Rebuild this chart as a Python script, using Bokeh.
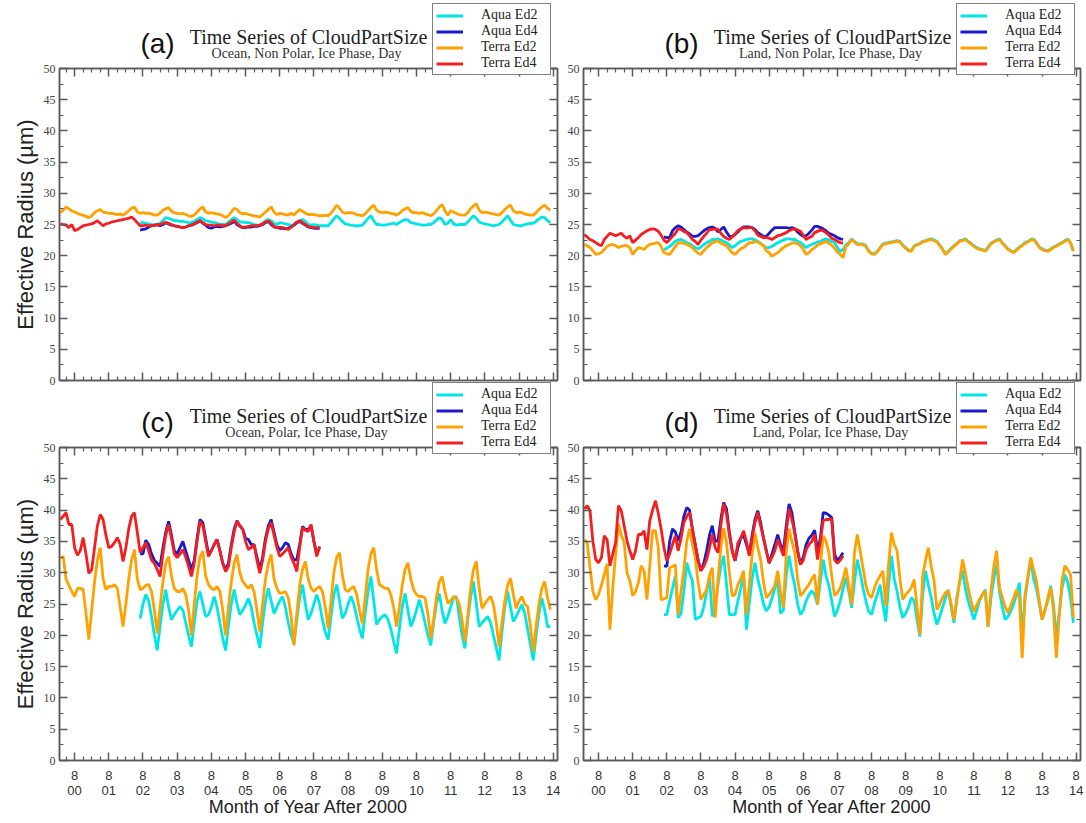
from bokeh.plotting import figure
from bokeh.models import FixedTicker, LinearAxis, Legend, LegendItem, Label, Range1d, GridBox
from bokeh.embed import file_html
from bokeh.resources import INLINE

# ---------------- data (monthly values, month index 0 = Jan 2000) ----------------
TERRA_START = 2   # Mar 2000
AQUA_START = 30   # Jul 2002
SERIES_NAMES = ["Aqua Ed2", "Aqua Ed4", "Terra Ed2", "Terra Ed4"]
YEAR_TICKS = [7, 19, 31, 43, 55, 67, 79, 91, 103, 115, 127, 139, 151, 163, 175]   # each August
YEAR_LABELS = ["8\n00", "8\n01", "8\n02", "8\n03", "8\n04", "8\n05", "8\n06", "8\n07",
               "8\n08", "8\n09", "8\n10", "8\n11", "8\n12", "8\n13", "8\n14"]
Y_TICKS = [0, 5, 10, 15, 20, 25, 30, 35, 40, 45, 50]

# (a) Ocean, Non Polar
A_TERRA_ED2 = [26.9, 27.3, 27.8, 27.5, 27.2, 27.0, 26.8, 26.6, 26.5, 26.3,
    26.1, 26.4, 26.9, 27.2, 27.4, 27.0, 26.9, 26.8, 26.8, 26.7, 26.6, 26.7,
    26.5, 26.8, 27.2, 27.6, 27.8, 27.0, 26.8, 26.9, 26.8, 26.8, 26.7, 26.5,
    26.5, 26.8, 27.3, 27.5, 27.7, 27.1, 26.9, 26.8, 26.7, 26.8, 26.6, 26.4,
    26.3, 26.5, 27.0, 27.5, 27.8, 27.0, 26.8, 26.9, 26.8, 26.7, 26.6, 26.4,
    26.1, 26.4, 27.0, 27.6, 27.4, 26.9, 26.7, 26.8, 26.6, 26.5, 26.4, 26.3,
    26.2, 26.6, 27.0, 27.4, 27.8, 27.0, 26.6, 26.8, 26.7, 26.6, 26.5, 26.8,
    26.5, 27.0, 27.4, 27.1, 26.8, 26.6, 26.6, 26.6, 26.5, 26.4, 26.4, 26.5,
    26.4, 26.8, 27.4, 28.1, 27.6, 27.0, 26.8, 26.9, 26.9, 26.8, 26.6, 26.5,
    26.4, 26.7, 27.2, 27.7, 28.1, 27.3, 27.0, 26.9, 27.0, 26.9, 26.8, 26.7,
    26.5, 26.8, 27.2, 27.5, 27.7, 27.1, 26.9, 26.9, 26.8, 26.9, 26.7, 26.6,
    26.4, 26.7, 27.2, 27.8, 28.2, 27.2, 26.5, 27.2, 27.0, 26.8, 26.6, 26.5,
    26.5, 26.9, 27.5, 28.0, 28.3, 27.3, 26.9, 27.0, 26.9, 26.8, 26.7, 26.6,
    26.5, 26.9, 27.4, 27.8, 28.1, 27.2, 26.9, 27.0, 26.9, 26.7, 26.6, 26.5,
    26.5, 26.9, 27.4, 27.8, 28.1, 27.6, 27.3]
A_AQUA_ED2 = [25.3, 25.3, 25.2, 25.1, 25.0, 24.9,
    24.9, 25.2, 25.6, 26.1, 26.0, 25.8, 25.6, 25.6, 25.5, 25.5, 25.4, 25.3,
    25.3, 25.5, 25.8, 26.1, 25.9, 25.6, 25.5, 25.4, 25.3, 25.2, 25.0, 25.0,
    25.0, 25.4, 25.8, 26.1, 25.8, 25.4, 25.4, 25.3, 25.3, 25.2, 25.0, 24.9,
    24.9, 25.2, 25.6, 25.8, 25.6, 25.2, 25.0, 25.3, 25.2, 25.1, 25.0, 24.9,
    24.9, 25.3, 25.6, 25.8, 25.5, 25.0, 24.9, 25.0, 24.9, 24.8, 24.8, 24.8,
    24.8, 25.3, 25.9, 26.4, 26.0, 25.5, 25.1, 25.0, 24.9, 24.8, 24.8, 24.8,
    24.9, 25.4, 26.0, 26.4, 25.6, 25.0, 25.0, 24.9, 24.9, 25.0, 25.1, 25.2,
    25.0, 25.3, 25.6, 25.8, 25.7, 25.3, 25.2, 25.1, 25.0, 24.9, 24.9, 25.0,
    25.0, 25.3, 25.7, 26.1, 25.8, 25.0, 25.2, 25.8, 25.1, 24.9, 25.0, 25.0,
    25.0, 25.4, 25.9, 26.4, 26.0, 25.4, 25.2, 25.1, 25.0, 24.9, 24.8, 24.9,
    25.0, 25.4, 25.9, 26.4, 25.7, 25.0, 24.9, 24.8, 24.8, 25.0, 25.1, 25.2,
    25.2, 25.5, 25.9, 26.2, 26.1, 25.6, 25.3]
A_TERRA_ED4 = [25.1, 25.0, 24.9, 24.5, 25.0, 24.0, 24.2, 24.5, 24.8, 24.9,
    25.0, 25.1, 25.3, 25.6, 25.2, 24.8, 25.1, 25.2, 25.4, 25.5, 25.6, 25.7,
    25.8, 25.9, 26.0, 26.2, 25.8, 25.3, 24.8, 24.8, 24.9, 24.8, 24.8, 24.9,
    24.9, 25.0, 25.2, 25.3, 25.2, 25.0, 24.8, 24.7, 24.6, 24.5, 24.6, 24.8,
    24.9, 25.1, 25.4, 25.6, 25.3, 25.0, 24.9, 24.9, 24.8, 24.9, 24.9, 24.8,
    24.8, 25.1, 25.4, 25.7, 25.2, 24.8, 24.5, 24.6, 24.7, 24.8, 24.8, 24.8,
    24.9, 25.1, 25.4, 25.6, 25.2, 24.7, 24.5, 24.6, 24.5, 24.4, 24.2, 24.6,
    25.0, 25.4, 25.6, 25.3, 25.0, 24.7, 24.6, 24.5, 24.5, 24.5]
A_AQUA_ED4 = [24.1, 24.2, 24.3, 24.6, 24.8, 24.9,
    25.0, 24.8, 25.0, 25.3, 25.1, 24.9, 24.8, 24.7, 24.6, 24.5, 24.6, 24.8,
    24.9, 25.1, 25.3, 25.6, 25.2, 24.9, 24.5, 24.4, 24.6, 24.7, 24.6, 24.7,
    24.8, 25.0, 25.2, 25.5, 25.0, 24.7, 24.5, 24.5, 24.6, 24.6, 24.7, 24.7,
    24.8, 25.0, 25.3, 25.5, 25.0, 24.6, 24.5, 24.4, 24.4, 24.3, 24.4, 24.6,
    24.9, 25.3, 25.5, 25.2, 24.9, 24.6, 24.5, 24.4, 24.4, 24.4]

# (b) Land, Non Polar
B_TERRA_ED2 = [21.8, 21.6, 21.3, 20.8, 20.2, 20.3, 20.5, 21.0, 21.5, 21.7,
    21.8, 21.6, 21.3, 21.5, 21.6, 21.6, 21.3, 20.2, 20.8, 21.3, 21.2, 21.0,
    21.5, 21.8, 21.9, 22.0, 22.1, 21.5, 20.5, 20.3, 20.2, 20.8, 21.5, 22.0,
    22.1, 22.0, 21.8, 21.6, 21.3, 20.8, 20.4, 20.2, 20.8, 21.3, 21.7, 22.1,
    22.2, 22.4, 22.0, 21.8, 21.6, 21.0, 20.5, 20.2, 20.7, 21.1, 21.3, 21.7,
    22.1, 22.1, 22.2, 22.2, 21.9, 21.6, 20.8, 20.5, 19.9, 20.2, 20.5, 20.9,
    21.3, 21.6, 21.8, 22.0, 22.1, 21.9, 21.6, 21.0, 20.2, 20.5, 21.0, 21.3,
    21.7, 21.9, 22.1, 22.3, 22.0, 21.7, 21.2, 20.6, 20.2, 19.7, 21.5, 21.9,
    22.6, 22.2, 21.8, 21.8, 21.8, 21.5, 20.7, 20.3, 20.2, 20.6, 21.2, 21.8,
    21.9, 22.0, 22.1, 22.2, 22.3, 22.2, 21.6, 21.2, 20.8, 20.7, 21.5, 21.7,
    21.9, 22.2, 22.3, 22.5, 22.6, 22.4, 22.2, 21.6, 21.0, 20.2, 20.6, 21.1,
    21.5, 21.9, 22.3, 22.4, 22.6, 22.2, 21.9, 21.5, 21.2, 21.0, 20.9, 20.7,
    21.3, 21.9, 22.2, 22.4, 22.6, 22.0, 21.5, 21.0, 20.7, 20.5, 20.9, 21.3,
    21.6, 22.0, 22.2, 22.5, 22.6, 22.0, 21.3, 21.0, 20.8, 20.7, 21.0, 21.3,
    21.5, 21.8, 22.0, 22.3, 22.6, 22.0, 20.7]
B_AQUA_ED2 = [21.0, 21.2, 21.5, 21.9, 22.3, 22.5,
    22.6, 22.4, 22.1, 21.9, 21.6, 21.3, 21.1, 21.4, 21.8, 22.1, 22.3, 22.6,
    22.6, 22.7, 22.5, 22.3, 22.1, 21.7, 21.3, 21.6, 22.0, 22.3, 22.4, 22.6,
    22.7, 22.7, 22.5, 22.3, 22.0, 21.6, 21.3, 21.3, 21.5, 21.8, 22.1, 22.3,
    22.5, 22.7, 22.7, 22.6, 22.6, 22.3, 22.1, 21.7, 21.3, 21.6, 21.8, 22.0,
    22.2, 22.3, 22.5, 22.7, 22.5, 22.3, 22.1, 21.3, 20.7, 21.0, 21.7, 22.1,
    22.7, 22.3, 21.9, 21.9, 21.9, 21.6, 20.8, 20.4, 20.3, 20.7, 21.3, 21.9,
    22.0, 22.1, 22.2, 22.3, 22.4, 22.3, 21.7, 21.3, 20.9, 20.8, 21.6, 21.8,
    22.0, 22.3, 22.4, 22.6, 22.7, 22.5, 22.3, 21.7, 21.1, 20.3, 20.7, 21.2,
    21.6, 22.0, 22.4, 22.5, 22.7, 22.3, 22.0, 21.6, 21.3, 21.1, 21.0, 20.8,
    21.4, 22.0, 22.3, 22.5, 22.7, 22.1, 21.6, 21.1, 20.8, 20.6, 21.0, 21.4,
    21.7, 22.1, 22.3, 22.6, 22.7, 22.1, 21.4, 21.1, 20.9, 20.8, 21.1, 21.4,
    21.6, 21.9, 22.1, 22.4, 22.7, 22.1, 20.8]
B_TERRA_ED4 = [23.4, 23.0, 22.6, 22.4, 22.1, 21.8, 21.6, 22.6, 23.1, 23.6,
    23.4, 23.2, 23.4, 23.6, 23.1, 22.8, 23.2, 22.1, 22.5, 22.9, 23.4, 23.7,
    24.0, 24.2, 24.3, 24.2, 23.9, 23.3, 22.5, 22.1, 22.6, 23.1, 23.6, 24.3,
    24.2, 23.9, 23.7, 23.2, 22.6, 22.3, 21.8, 22.5, 23.1, 23.6, 24.2, 24.2,
    24.3, 24.2, 23.6, 23.1, 22.8, 22.6, 23.0, 23.5, 24.0, 24.3, 24.5, 24.4,
    24.5, 24.5, 24.0, 23.3, 23.1, 22.9, 22.9, 22.8, 22.6, 22.9, 23.2, 23.3,
    23.5, 23.7, 24.0, 24.2, 24.3, 24.1, 23.9, 23.3, 22.6, 22.9, 23.1, 23.7,
    23.9, 24.1, 24.0, 23.7, 23.3, 22.8, 22.6, 22.3, 22.1, 22.0]
B_AQUA_ED4 = [23.0, 22.9, 22.9, 24.0, 24.5, 24.8,
    24.6, 24.2, 23.8, 23.5, 23.1, 23.1, 23.2, 23.6, 24.0, 24.3, 24.5, 24.6,
    24.4, 23.8, 24.2, 24.6, 23.8, 23.1, 23.1, 23.4, 23.8, 24.3, 24.6, 24.6,
    24.6, 24.5, 24.2, 23.7, 23.4, 23.1, 23.1, 23.6, 24.1, 24.5, 24.5, 24.5,
    24.5, 24.5, 24.4, 24.5, 24.3, 23.8, 23.4, 23.1, 23.2, 23.6, 24.1, 24.7,
    24.7, 24.5, 24.3, 24.0, 23.6, 23.4, 23.2, 22.9, 22.7, 22.6]

# (c) Ocean, Polar
C_TERRA_ED2 = [32.4, 32.6, 29.0, 28.0, 27.0, 26.2, 27.5, 27.5, 27.3, 23.5,
    19.3, 24.0, 28.5, 32.0, 34.0, 29.0, 27.3, 27.8, 27.8, 28.1, 27.5, 24.5,
    21.4, 25.0, 29.0, 32.0, 33.7, 29.0, 27.3, 27.5, 28.0, 28.1, 27.0, 24.0,
    20.3, 24.5, 28.5, 31.5, 32.6, 29.5, 27.5, 27.0, 27.0, 27.5, 26.5, 24.0,
    20.0, 25.0, 29.5, 32.5, 33.4, 29.5, 28.1, 27.5, 27.3, 27.8, 27.0, 24.0,
    20.0, 24.5, 28.5, 31.5, 32.9, 30.0, 28.6, 28.0, 27.5, 28.1, 27.0, 24.0,
    20.6, 25.0, 29.0, 31.5, 32.9, 29.0, 27.5, 26.7, 26.8, 27.0, 26.0, 23.0,
    18.4, 23.5, 28.0, 30.5, 31.8, 29.0, 27.5, 27.0, 27.5, 27.8, 27.0, 24.5,
    21.1, 25.5, 30.0, 32.5, 33.2, 29.5, 27.3, 27.0, 27.5, 27.8, 26.5, 24.0,
    21.9, 26.0, 30.5, 33.0, 34.0, 30.5, 28.1, 27.8, 27.5, 27.5, 26.5, 24.5,
    21.4, 24.5, 28.0, 30.5, 31.6, 29.0, 27.3, 26.5, 26.2, 26.2, 26.0, 23.5,
    19.5, 22.5, 26.0, 28.5, 29.4, 27.0, 25.1, 25.5, 26.2, 26.0, 25.0, 22.5,
    19.0, 23.0, 27.5, 30.5, 31.8, 27.5, 24.3, 25.0, 25.7, 26.2, 25.0, 22.0,
    18.2, 22.0, 25.5, 28.0, 29.1, 26.5, 24.3, 25.5, 26.2, 25.0, 24.6, 21.5,
    17.4, 21.5, 25.0, 27.5, 28.6, 26.0, 24.1]
C_AQUA_ED2 = [22.7, 25.0, 26.5, 25.5, 23.0, 20.0,
    17.6, 21.5, 25.0, 27.3, 24.5, 22.5, 23.3, 24.0, 24.6, 24.0, 22.0, 20.0,
    18.2, 22.0, 25.5, 27.0, 25.0, 23.0, 23.3, 24.5, 26.2, 24.5, 22.0, 19.5,
    17.6, 21.5, 25.0, 27.3, 25.0, 23.3, 24.0, 24.8, 25.9, 24.5, 22.0, 20.0,
    18.0, 22.0, 25.5, 27.5, 25.5, 23.5, 24.5, 25.5, 26.2, 24.5, 22.0, 20.0,
    18.7, 22.5, 26.0, 28.1, 25.0, 22.5, 23.5, 25.0, 26.5, 25.0, 22.5, 20.5,
    19.3, 23.0, 26.5, 28.1, 25.5, 22.7, 23.5, 25.0, 26.2, 25.0, 23.0, 21.0,
    19.5, 23.5, 27.0, 29.4, 25.5, 21.7, 22.5, 23.0, 23.3, 22.5, 21.0, 19.0,
    17.1, 21.0, 24.5, 26.7, 24.0, 21.4, 22.5, 24.0, 25.7, 24.0, 22.0, 20.0,
    18.4, 22.0, 25.0, 26.7, 24.0, 21.9, 23.0, 24.5, 26.0, 26.2, 23.0, 20.0,
    17.9, 22.5, 26.0, 28.6, 25.0, 21.4, 22.0, 22.5, 23.0, 22.0, 20.0, 18.0,
    16.0, 20.5, 24.5, 27.0, 24.5, 22.2, 23.0, 24.0, 24.9, 23.5, 21.0, 18.5,
    16.0, 20.0, 23.5, 25.9, 24.0, 21.4, 21.4]
C_TERRA_ED4 = [38.5, 39.0, 39.6, 37.7, 37.7, 34.0, 32.8, 33.5, 35.6, 33.0,
    29.9, 30.5, 34.0, 37.5, 39.3, 38.5, 36.0, 34.0, 34.2, 34.8, 35.6, 34.5,
    31.8, 34.0, 37.0, 39.0, 39.6, 36.5, 33.2, 34.0, 34.8, 33.5, 32.0, 31.5,
    30.5, 29.4, 33.0, 36.0, 37.7, 35.5, 33.0, 32.4, 33.0, 33.7, 32.5, 31.0,
    29.4, 31.5, 35.0, 38.2, 37.5, 35.0, 32.6, 33.5, 34.5, 35.3, 33.5, 31.5,
    30.2, 31.0, 34.0, 36.5, 38.2, 37.5, 36.9, 35.0, 33.7, 34.0, 34.5, 32.0,
    29.9, 32.0, 35.0, 37.0, 38.0, 36.0, 34.0, 32.6, 33.0, 33.5, 34.0, 32.5,
    31.5, 30.2, 34.0, 37.2, 36.8, 36.6, 37.7, 35.0, 32.6, 34.2]
C_AQUA_ED4 = [33.0, 33.0, 35.2, 34.5, 33.0, 32.0,
    31.5, 31.0, 34.0, 36.5, 38.2, 36.0, 33.5, 33.0, 34.0, 35.0, 33.5, 32.0,
    30.5, 32.0, 35.5, 38.5, 38.0, 35.5, 33.0, 33.5, 34.5, 35.3, 33.5, 31.5,
    30.5, 31.5, 34.5, 37.0, 38.3, 37.5, 37.0, 35.5, 35.3, 34.5, 34.5, 32.5,
    30.5, 32.5, 35.5, 37.5, 38.5, 36.5, 34.5, 33.5, 34.0, 34.8, 34.5, 33.0,
    32.0, 32.1, 34.5, 37.4, 36.9, 36.9, 37.5, 35.0, 33.0, 34.0]

# (d) Land, Polar
D_TERRA_ED2 = [35.3, 34.8, 30.8, 27.0, 25.7, 26.5, 28.0, 29.7, 31.4, 20.9,
    27.6, 33.0, 37.8, 36.0, 34.8, 30.0, 28.7, 26.3, 27.0, 28.4, 31.1, 30.3,
    25.7, 31.0, 36.7, 36.7, 34.0, 25.7, 25.8, 26.0, 30.8, 31.0, 31.3, 23.3,
    27.0, 30.5, 35.0, 37.0, 34.5, 32.4, 28.5, 25.7, 26.5, 27.3, 29.5, 30.8,
    22.8, 29.0, 34.0, 37.1, 34.8, 30.0, 26.3, 26.5, 28.1, 29.0, 30.3, 23.3,
    28.0, 32.9, 36.4, 34.0, 32.1, 28.5, 26.0, 26.5, 27.2, 27.9, 30.3, 27.0,
    24.4, 33.2, 37.0, 35.0, 33.2, 29.0, 26.3, 26.8, 27.5, 28.1, 29.0, 29.7,
    24.9, 31.0, 35.9, 35.0, 33.2, 29.5, 26.3, 26.8, 27.6, 29.0, 30.8, 28.0,
    24.9, 33.2, 36.1, 33.5, 30.8, 28.0, 26.5, 26.0, 27.5, 28.7, 29.5, 30.3,
    24.7, 31.3, 36.4, 34.5, 33.5, 29.0, 25.7, 26.5, 27.0, 27.6, 28.9, 24.5,
    20.1, 29.5, 32.0, 34.0, 31.0, 28.7, 24.1, 25.0, 26.0, 26.8, 27.1, 25.0,
    22.5, 25.5, 28.7, 32.1, 30.0, 27.6, 25.5, 23.8, 24.8, 25.8, 26.5, 27.1,
    21.4, 27.1, 31.0, 33.5, 27.6, 26.0, 24.5, 23.6, 24.8, 26.0, 27.3, 26.0,
    16.4, 26.5, 29.5, 32.4, 30.5, 28.7, 25.5, 22.5, 24.0, 26.0, 27.6, 24.0,
    16.4, 23.0, 28.7, 31.1, 30.5, 29.7, 22.8]
D_AQUA_ED2 = [23.3, 23.3, 25.5, 27.5, 29.5, 22.8,
    23.5, 27.0, 31.6, 30.0, 28.7, 22.5, 22.8, 23.0, 24.5, 27.0, 29.3, 23.0,
    24.5, 28.0, 31.0, 32.7, 28.1, 23.3, 23.3, 23.3, 25.5, 27.5, 29.7, 20.9,
    25.0, 29.0, 31.6, 29.0, 27.1, 25.0, 23.9, 24.5, 26.0, 27.5, 28.9, 23.5,
    24.0, 29.5, 32.7, 30.0, 28.0, 25.0, 23.3, 24.0, 25.5, 26.5, 27.1, 26.5,
    24.9, 28.5, 32.1, 29.5, 27.9, 25.5, 23.0, 24.0, 25.5, 27.5, 29.2, 27.0,
    24.4, 28.5, 32.1, 30.0, 27.6, 25.5, 23.8, 23.3, 25.0, 26.5, 28.1, 25.0,
    22.2, 28.0, 32.7, 29.0, 27.0, 24.5, 22.8, 23.5, 24.5, 26.0, 25.5, 22.5,
    19.8, 26.5, 30.3, 28.0, 26.0, 23.5, 21.7, 23.0, 24.5, 26.0, 27.3, 24.5,
    22.0, 26.0, 28.5, 30.3, 27.5, 25.5, 24.0, 22.5, 24.0, 25.5, 26.5, 27.3,
    21.4, 26.0, 29.0, 31.3, 27.0, 24.5, 22.5, 23.0, 23.9, 25.0, 26.5, 28.4,
    19.6, 26.0, 29.0, 32.1, 29.0, 27.5, 25.0, 22.5, 24.0, 25.5, 27.9, 25.0,
    19.6, 23.5, 27.5, 29.7, 28.5, 26.0, 22.0]
D_TERRA_ED4 = [40.2, 40.7, 39.9, 35.0, 32.1, 31.6, 32.4, 35.9, 35.3, 31.1,
    33.0, 34.8, 40.7, 39.9, 37.5, 35.1, 33.5, 32.1, 33.5, 36.1, 36.1, 36.7,
    33.7, 38.3, 40.0, 41.5, 39.5, 37.0, 34.0, 31.9, 33.0, 34.5, 35.9, 33.5,
    35.5, 38.0, 39.0, 39.6, 37.0, 34.5, 32.0, 30.3, 31.0, 32.1, 34.0, 36.1,
    34.0, 33.2, 37.5, 41.0, 39.4, 36.0, 33.5, 31.9, 34.8, 35.5, 36.7, 35.0,
    32.7, 35.5, 38.0, 39.6, 37.5, 35.6, 33.5, 31.6, 32.5, 33.5, 35.3, 34.0,
    32.7, 36.5, 40.2, 38.5, 36.4, 33.5, 31.3, 32.0, 33.7, 34.5, 35.0, 36.1,
    32.1, 35.0, 38.3, 38.5, 38.5, 38.6, 32.1, 31.5, 32.0, 32.7]
D_AQUA_ED4 = [31.1, 31.0, 35.0, 37.0, 36.5, 35.1,
    36.5, 39.0, 40.4, 40.0, 37.0, 34.5, 32.0, 30.3, 31.5, 33.5, 36.0, 37.5,
    35.0, 35.1, 38.5, 41.2, 40.2, 36.5, 33.5, 31.9, 34.0, 35.5, 36.0, 34.5,
    33.0, 36.0, 38.5, 39.9, 38.0, 35.5, 33.5, 31.5, 33.0, 34.5, 36.1, 34.5,
    33.5, 37.5, 41.0, 39.6, 36.5, 33.5, 31.3, 32.5, 34.5, 35.5, 36.0, 36.8,
    33.5, 35.5, 39.6, 39.5, 39.2, 38.8, 33.0, 31.9, 32.5, 33.2]

PANELS = [
    ("(a)", "Ocean, Non Polar, Ice Phase, Day", A_AQUA_ED2, A_AQUA_ED4, A_TERRA_ED2, A_TERRA_ED4),
    ("(b)", "Land, Non Polar, Ice Phase, Day", B_AQUA_ED2, B_AQUA_ED4, B_TERRA_ED2, B_TERRA_ED4),
    ("(c)", "Ocean, Polar, Ice Phase, Day", C_AQUA_ED2, C_AQUA_ED4, C_TERRA_ED2, C_TERRA_ED4),
    ("(d)", "Land, Polar, Ice Phase, Day", D_AQUA_ED2, D_AQUA_ED4, D_TERRA_ED2, D_TERRA_ED4),
]
TITLE = "Time Series of CloudPartSize"

# ---------------- styling ----------------
COLORS = {"Aqua Ed2": "#00e6e6", "Aqua Ed4": "#1a1acd", "Terra Ed2": "#ffa200", "Terra Ed4": "#f41e1e"}
FRAME = "#5a5a5a"
SERIF = "Liberation Serif"
SANS = "Liberation Sans"
X_MIN, X_MAX = 1.7, 176.5
LEFT_W, RIGHT_W = 560, 526
TOP_H, BOT_H = 395, 428
W, H = LEFT_W + RIGHT_W, TOP_H + BOT_H

X_MINOR = [m for m in range(1, 177, 3) if m % 12 != 7 and m >= X_MIN]
Y_MINOR = [v + 2.5 for v in Y_TICKS[:-1]]


def style_axis(ax, show_labels):
    ax.axis_line_color = FRAME
    ax.axis_line_width = 1.5
    ax.major_tick_line_color = FRAME
    ax.major_tick_line_width = 1.5
    ax.minor_tick_line_color = FRAME
    ax.minor_tick_line_width = 1.2
    ax.major_tick_in = 8
    ax.major_tick_out = 0
    ax.minor_tick_in = 4
    ax.minor_tick_out = 0
    if not show_labels:
        ax.major_label_text_font_size = "0px"
        ax.major_label_text_color = None
        ax.major_label_standoff = 0


def build(panel, left_col, top_row):
    letter, sub, aqua2, aqua4, terra2, terra4 = panel
    p = figure(width=LEFT_W if left_col else RIGHT_W, height=TOP_H if top_row else BOT_H,
               x_range=Range1d(X_MIN, X_MAX), y_range=Range1d(0, 50),
               output_backend="svg", toolbar_location=None,
               min_border_left=59 if left_col else 23,
               min_border_right=3 if left_col else 6,
               min_border_top=68 if top_row else 52,
               min_border_bottom=15 if top_row else 63)
    p.xgrid.visible = False
    p.ygrid.visible = False
    p.outline_line_color = FRAME
    p.outline_line_width = 1.5
    p.background_fill_color = "white"
    p.border_fill_color = "white"

    xt = FixedTicker(ticks=YEAR_TICKS, minor_ticks=X_MINOR)
    yt = FixedTicker(ticks=Y_TICKS, minor_ticks=Y_MINOR)

    xa = p.xaxis[0]
    xa.ticker = xt
    style_axis(xa, not top_row)
    if not top_row:
        xa.major_label_overrides = dict(zip(YEAR_TICKS, YEAR_LABELS))
        xa.major_label_text_font = SANS
        xa.major_label_text_font_size = "13px"
        xa.major_label_text_line_height = 1.0
        xa.major_label_text_color = "#333333"
        xa.major_label_standoff = 7
        xa.axis_label = "Month of Year After 2000"
        xa.axis_label_text_font = SANS
        xa.axis_label_text_font_size = "18px"
        xa.axis_label_text_line_height = 1.0
        xa.axis_label_text_font_style = "normal"
        xa.axis_label_text_color = "#222222"
        xa.axis_label_standoff = -4

    ya = p.yaxis[0]
    ya.ticker = yt
    style_axis(ya, True)
    ya.major_label_text_font = SERIF
    ya.major_label_text_font_size = "12px"
    ya.major_label_text_color = "#444444"
    ya.major_label_standoff = 4
    if left_col:
        ya.axis_label = "Effective Radius (\u00b5m)"
        ya.axis_label_text_font = SANS
        ya.axis_label_text_font_size = "22px"
        ya.axis_label_text_font_style = "normal"
        ya.axis_label_text_color = "#222222"
        ya.axis_label_standoff = 3

    top = LinearAxis(ticker=xt)
    style_axis(top, False)
    p.add_layout(top, "above")
    right = LinearAxis(ticker=yt)
    style_axis(right, False)
    p.add_layout(right, "right")

    series = [("Aqua Ed2", AQUA_START, aqua2), ("Terra Ed2", TERRA_START, terra2),
              ("Aqua Ed4", AQUA_START, aqua4), ("Terra Ed4", TERRA_START, terra4)]
    for name, start, vals in series:
        xs = [start + i for i in range(len(vals))]
        p.line(xs, vals, line_color=COLORS[name], line_width=2.8)
    return p


# transparent overlay carrying panel titles and legends (pixel coordinates, origin bottom-left)
ov = figure(width=W, height=H, x_range=Range1d(0, W), y_range=Range1d(0, H),
            output_backend="svg", toolbar_location=None,
            x_axis_location=None, y_axis_location=None, min_border=0)
try:
    ov.frame_align = False
except Exception:
    pass
ov.outline_line_color = None
ov.grid.visible = False
ov.background_fill_color = None
ov.border_fill_color = None

legend_renderers = []
for name in SERIES_NAMES:
    r = ov.line([float("nan"), float("nan")], [float("nan"), float("nan")],
                line_color=COLORS[name], line_width=3)
    legend_renderers.append((name, r))

for i, (left_col, top_row) in enumerate([(True, True), (False, True), (True, False), (False, False)]):
    letter, sub = PANELS[i][0], PANELS[i][1]
    dx = 0 if left_col else 524
    base = H if top_row else H - 379   # top edge of the panel (overlay y-coordinates)
    ov.add_layout(Label(x=157 + dx, y=base - 43, text=letter, text_font=SANS, text_font_size="28px",
                        text_align="center", text_baseline="middle", text_color="#111111"))
    ov.add_layout(Label(x=308 + dx, y=base - 36, text=TITLE, text_font=SERIF,
                        text_font_size="20px", text_align="center", text_baseline="middle",
                        text_color="#222222"))
    ov.add_layout(Label(x=306 + dx, y=base - 52.5, text=sub, text_font=SERIF,
                        text_font_size="14px", text_align="center", text_baseline="middle",
                        text_color="#333333"))
    leg = Legend(items=[LegendItem(label=n, renderers=[r]) for n, r in legend_renderers],
                 location=(432 + dx, base - 75), orientation="vertical")
    leg.label_text_font = SERIF
    leg.label_text_font_size = "14px"
    leg.label_text_color = "#222222"
    leg.glyph_width = 27
    leg.glyph_height = 15
    leg.label_height = 15
    leg.label_width = 66
    leg.label_standoff = 18
    leg.spacing = 0
    leg.padding = 3
    leg.margin = 0
    leg.border_line_color = "black"
    leg.border_line_width = 1
    leg.background_fill_color = "white"
    leg.background_fill_alpha = 1.0
    ov.add_layout(leg)

pa = build(PANELS[0], True, True)
pb = build(PANELS[1], False, True)
pc = build(PANELS[2], True, False)
pd = build(PANELS[3], False, False)

grid = GridBox(children=[(pa, 0, 0), (pb, 0, 1), (pc, 1, 0), (pd, 1, 1), (ov, 0, 0, 2, 2)])
open("out.html", "w").write(file_html(grid, INLINE))
